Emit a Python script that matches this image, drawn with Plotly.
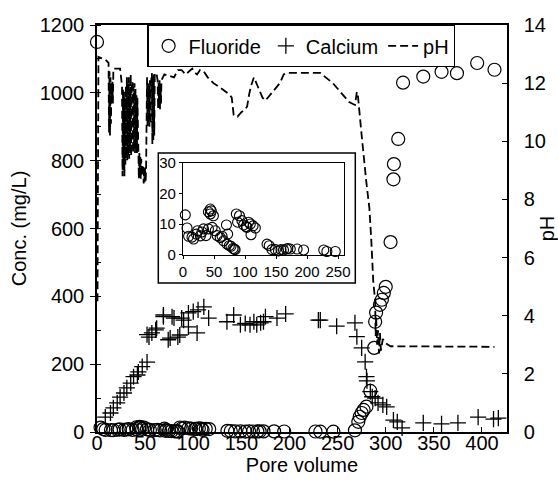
import plotly.graph_objects as go

# ---------------- data ----------------
fluoride_pv = [0, 3.7, 6.5, 9, 14.5, 17, 21.5, 23.5, 28, 30.6, 33, 37, 41, 47, 41, 44, 45.6, 49, 44,
               52, 55, 60, 63, 65.5, 70, 72, 71, 74.7, 77.4, 80.6, 82.7, 84, 86, 91, 88, 95, 97.7,
               102, 105.8, 108.5, 109.7, 113, 116.6, 103, 135.5, 139, 143.5, 149, 154, 158, 162,
               166.6, 169, 173, 184, 194.5, 227, 232, 245.6,
               268, 271.5, 273, 275, 277, 280, 284, 288, 289, 290, 294, 296, 298, 300,
               305, 308, 308.5, 313, 318, 339, 358, 374, 395, 413]
fluoride_c = [1150, 13, 8.7, 6, 5.7, 5.1, 6.7, 7.8, 6.1, 7.4, 8.4, 6.2, 8.4, 8.9, 14, 14.9, 14.3, 12.7, 13.3,
              7.8, 6.2, 5.6, 6.0, 4.5, 9.7, 6.7, 3.4, 2.9, 2.7, 2.0, 1.8, 1.6, 13.3, 12.7, 10.6, 11.1, 9.7,
              9.2, 10.6, 10.0, 6.5, 9.4, 8.7, 8.9, 3.4, 2.9, 1.6, 1.6, 1.2, 1.6, 1.5,
              1.8, 2.0, 1.8, 1.8, 1.5, 1.5, 1.0, 1.0,
              5, 30, 45, 56, 65, 75, 121, 248, 325, 352, 375, 390, 410, 428,
              560, 745, 790, 864, 1030, 1048, 1062, 1058, 1088, 1068]

calcium_pv = [8.6, 14, 17, 21, 24, 28, 31, 35, 38, 42, 43, 47, 52, 52, 54, 57, 61, 62, 69, 69, 74, 76,
              78, 80, 84, 86, 88, 90, 95, 95, 100, 104, 105, 111, 116, 135, 142, 149, 154, 159, 163,
              166, 170, 173, 175, 187, 196, 230, 232, 249, 268, 270, 275, 278.6, 280, 280.5, 284,
              286, 289, 292, 297, 301, 308, 312, 317, 339, 358, 375, 396, 412, 417]
calcium_c = [44, 56, 71, 86, 103, 115, 130, 144, 163, 168, 177, 193, 206, 287, 280, 292, 301, 306, 340,
             345, 272, 277, 340, 336, 280, 286, 336, 330, 351, 310, 355, 292, 360, 369, 336, 325, 345,
             316, 320, 316, 325, 316, 322, 325, 340, 336, 348, 330, 330, 312, 322, 281, 248, 207, 163,
             151, 119, 104, 100, 86, 80, 74, 35, 30, 12, 27, 24, 27, 44, 38, 41]

ph_pv = [0.5, 1.5, 5, 9, 12, 12.5, 13, 13.5, 14, 14.5, 15, 15.5, 16, 16.5, 17, 20, 24, 26, 26.5, 27,
         27.5, 28, 28.5, 29, 29.5, 30, 30.5, 31, 31.5, 32, 32.5, 33, 33.5, 34, 34.5, 35, 35.5, 36,
         37, 37.5, 38, 38.5, 39, 39.5, 40, 40.5, 41, 41.5, 42, 43, 43.5, 44, 44.5, 45, 45.5, 46,
         46.5, 47, 48, 48.5, 49, 49.5, 50, 50.5, 51, 52, 52.5, 53, 53.5, 54, 54.5, 55, 55.5, 56,
         57, 57.5, 58, 58.5, 59, 59.5, 60, 61, 62, 63, 63.5, 64, 64.5, 65, 65.5, 66, 66.5, 67,
         70, 75, 80, 84, 88, 92, 96, 99, 102, 104, 107, 111, 115, 121, 130, 138, 140, 142, 146,
         150, 154, 156, 158, 160, 163, 168, 172, 175, 180, 187, 190, 194, 197, 210, 220, 232,
         245, 255, 262, 268, 270, 271, 273, 275, 280, 283, 285, 287, 289, 289.5, 290, 291, 292,
         293, 294, 295, 297, 300, 305, 315, 330, 350, 370, 390, 413]
ph_val = [4.5, 12.9, 12.85, 12.8, 12.7, 10.3, 12.4, 10.2, 12.2, 10.6, 12.0, 11.3, 12.05, 11.3, 12.5,
          12.5, 12.5, 11.9, 8.8, 11.8, 9.0, 11.7, 8.8, 11.5, 9.2, 11.9, 9.4, 12.2, 9.35, 12.0, 9.5,
          12.2, 9.4, 11.8, 9.6, 12.3, 9.5, 12.0, 12.05, 9.6, 11.9, 9.7, 12.0, 9.6, 11.8, 9.8, 11.6,
          9.6, 11.5, 9.7, 8.7, 9.6, 8.8, 9.5, 8.7, 9.4, 8.8, 9.2, 9.1, 8.55, 9.0, 8.6, 9.1, 8.6,
          9.0, 12.2, 10.5, 12.0, 10.6, 11.9, 10.5, 12.1, 10.6, 12.0, 12.35, 9.9, 12.2, 10.0, 12.3,
          10.2, 12.35, 12.35, 12.3, 12.1, 11.1, 12.0, 11.2, 12.1, 11.1, 11.9, 11.3, 12.1, 12.3,
          12.25, 12.2, 12.45, 12.45, 12.3, 12.4, 12.5, 12.35, 12.3, 12.45, 12.4, 12.2, 12.0, 11.8,
          11.6, 11.5, 10.9, 10.85, 11.0, 11.1, 11.2, 11.6, 11.9, 12.2, 11.8, 11.5, 11.4, 11.6,
          11.9, 12.0, 12.3, 12.35, 12.35, 12.35, 12.35, 12.0, 11.6, 11.35, 11.25, 11.7, 11.6,
          10.8, 10.2, 8.55, 7.7, 6.6, 5.2, 4.5, 3.3, 4.0, 3.0, 3.5, 2.7, 3.4, 2.8, 3.2, 3.05,
          2.95, 2.95, 2.93, 2.95, 2.93, 2.95, 2.93]

inset_max_pv = 250

FONT = "Liberation Sans, Arial, Helvetica, sans-serif"

fig = go.Figure()

fig.add_trace(go.Scatter(
    x=fluoride_pv, y=fluoride_c, mode="markers", name="Fluoride",
    marker=dict(symbol="circle-open", size=13, color="black", line=dict(width=1.2, color="black")),
    cliponaxis=False, xaxis="x", yaxis="y"))

fig.add_trace(go.Scatter(
    x=calcium_pv, y=calcium_c, mode="markers", name="Calcium",
    marker=dict(symbol="cross-thin-open", size=11.5, color="black", line=dict(width=1.3, color="black")),
    cliponaxis=False, xaxis="x", yaxis="y"))

fig.add_trace(go.Scatter(
    x=ph_pv, y=ph_val, mode="lines", name="pH",
    line=dict(color="black", width=1.8, dash="8px,4px"),
    xaxis="x", yaxis="y2"))

ins_x = [p for p, c in zip(fluoride_pv, fluoride_c) if p <= inset_max_pv and c < 30]
ins_y = [c for p, c in zip(fluoride_pv, fluoride_c) if p <= inset_max_pv and c < 30]
fig.add_trace(go.Scatter(
    x=ins_x, y=ins_y, mode="markers", showlegend=False,
    marker=dict(symbol="circle-open", size=10, color="black", line=dict(width=1.1, color="black")),
    cliponaxis=False, xaxis="x3", yaxis="y3"))

axis_common = dict(showgrid=False, zeroline=False, showline=True, linecolor="black", linewidth=1.5,
                   tickcolor="black", automargin=False,
                   tickfont=dict(family=FONT, size=20, color="black"))
inset_common = dict(ticks="outside", ticklen=3, mirror=True, showgrid=False, zeroline=False,
                    showline=True, linecolor="black", linewidth=1.3, tickcolor="black",
                    automargin=False, tickfont=dict(family=FONT, size=15, color="black"))

fig.update_layout(
    width=558, height=487,
    margin=dict(l=97, r=51, t=25, b=55),
    paper_bgcolor="white", plot_bgcolor="white",
    font=dict(family=FONT, size=20, color="black"),
    xaxis=dict(range=[0, 426], dtick=50, ticks="inside", ticklen=5, mirror=True,
               ticklabelstandoff=-8,
               title=dict(text="Pore volume", standoff=2, font=dict(size=20)), **axis_common),
    yaxis=dict(range=[0, 1200], dtick=200, ticks="outside", ticklen=5, ticklabelstandoff=2,
               minor=dict(dtick=100, ticks="inside", ticklen=4, tickcolor="black"),
               title=dict(text="Conc. (mg/L)", standoff=8, font=dict(size=20)), **axis_common),
    yaxis2=dict(range=[0, 14], dtick=2, ticks="inside", ticklen=5, overlaying="y", side="right",
                anchor="x", ticklabelstandoff=11,
                title=dict(text="pH", standoff=3, font=dict(size=20)), **axis_common),
    xaxis3=dict(domain=[0.2098, 0.603], anchor="y3", range=[0, 260],
                tickvals=[0, 50, 100, 150, 200, 250], **inset_common),
    yaxis3=dict(domain=[0.436, 0.661], anchor="x3", range=[0, 30], dtick=10, **inset_common),
    legend=dict(orientation="h", x=0.1227, y=1, xanchor="left", yanchor="top",
                bordercolor="black", borderwidth=1.3, bgcolor="white",
                font=dict(family=FONT, size=20, color="black"),
                itemwidth=30, tracegroupgap=0),
    shapes=[dict(type="rect", xref="paper", yref="paper", x0=0.1495, x1=0.630, y0=0.366, y1=0.6855,
                 line=dict(color="black", width=1.5), fillcolor="white", layer="below")],
)

fig.write_html("out.html")
